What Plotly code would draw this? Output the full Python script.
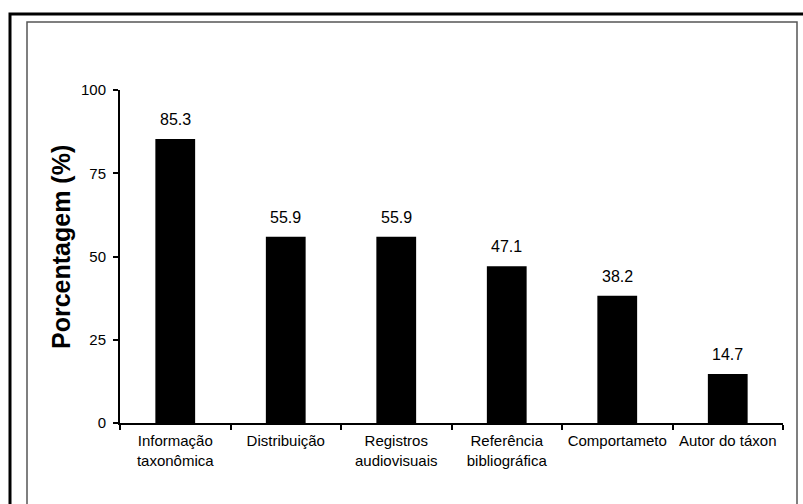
import plotly.graph_objects as go

categories = [
    "Informação<br>taxonômica",
    "Distribuição",
    "Registros<br>audiovisuais",
    "Referência<br>bibliográfica",
    "Comportameto",
    "Autor do táxon",
]
percentages = [85.3, 55.9, 55.9, 47.1, 38.2, 14.7]
y_ticks = [0, 25, 50, 75, 100]

W, H = 803, 504
ML, MR, MT, MB = 120, 20, 90, 81
PW, PH = W - ML - MR, H - MT - MB
FONT = "Liberation Sans, Arial, sans-serif"


def px_x(px):
    return (px - ML) / PW


def px_y(py):
    return (H - MB - py) / PH


fig = go.Figure(
    go.Bar(
        x=categories,
        y=percentages,
        marker=dict(color="black", line=dict(width=0)),
        cliponaxis=False,
    )
)

# value labels floating above each bar
value_labels = [
    dict(
        x=c,
        y=v,
        xref="x",
        yref="y",
        text=f"{v:.1f}",
        showarrow=False,
        yanchor="bottom",
        yshift=9,
        font=dict(family=FONT, size=16, color="black"),
    )
    for c, v in zip(categories, percentages)
]

fig.update_layout(
    width=W,
    height=H,
    margin=dict(l=ML, r=MR, t=MT, b=MB),
    paper_bgcolor="white",
    plot_bgcolor="white",
    bargap=0.64,
    showlegend=False,
    font=dict(family=FONT, size=15, color="black"),
    xaxis=dict(
        showline=True,
        linecolor="black",
        linewidth=2,
        ticks="outside",
        tickson="boundaries",
        ticklen=5,
        tickwidth=1.5,
        tickcolor="black",
        showgrid=False,
        ticklabelstandoff=3,
        tickfont=dict(family=FONT, size=15, color="black"),
    ),
    yaxis=dict(
        range=[0, 100],
        tickvals=y_ticks,
        showline=True,
        linecolor="black",
        linewidth=2,
        ticks="outside",
        ticklen=5,
        tickwidth=1.5,
        tickcolor="black",
        showgrid=False,
        zeroline=False,
        ticklabelstandoff=4,
        tickfont=dict(family=FONT, size=15, color="black"),
    ),
    annotations=value_labels + [
        dict(
            text="<b>Porcentagem (%)</b>",
            xref="paper",
            yref="paper",
            x=px_x(61),
            y=px_y(247),
            xanchor="center",
            yanchor="middle",
            textangle=-90,
            showarrow=False,
            font=dict(family=FONT, size=25, color="black"),
        )
    ],
    shapes=[
        # outer heavy frame
        dict(
            type="rect",
            xref="paper",
            yref="paper",
            x0=px_x(10),
            x1=px_x(808),
            y0=px_y(512),
            y1=px_y(14),
            line=dict(color="black", width=3),
            layer="above",
        ),
        # inner thin frame
        dict(
            type="rect",
            xref="paper",
            yref="paper",
            x0=px_x(27),
            x1=px_x(797),
            y0=px_y(512),
            y1=px_y(22),
            line=dict(color="#555555", width=1.5),
            layer="above",
        ),
    ],
)

fig.write_html("out.html")
